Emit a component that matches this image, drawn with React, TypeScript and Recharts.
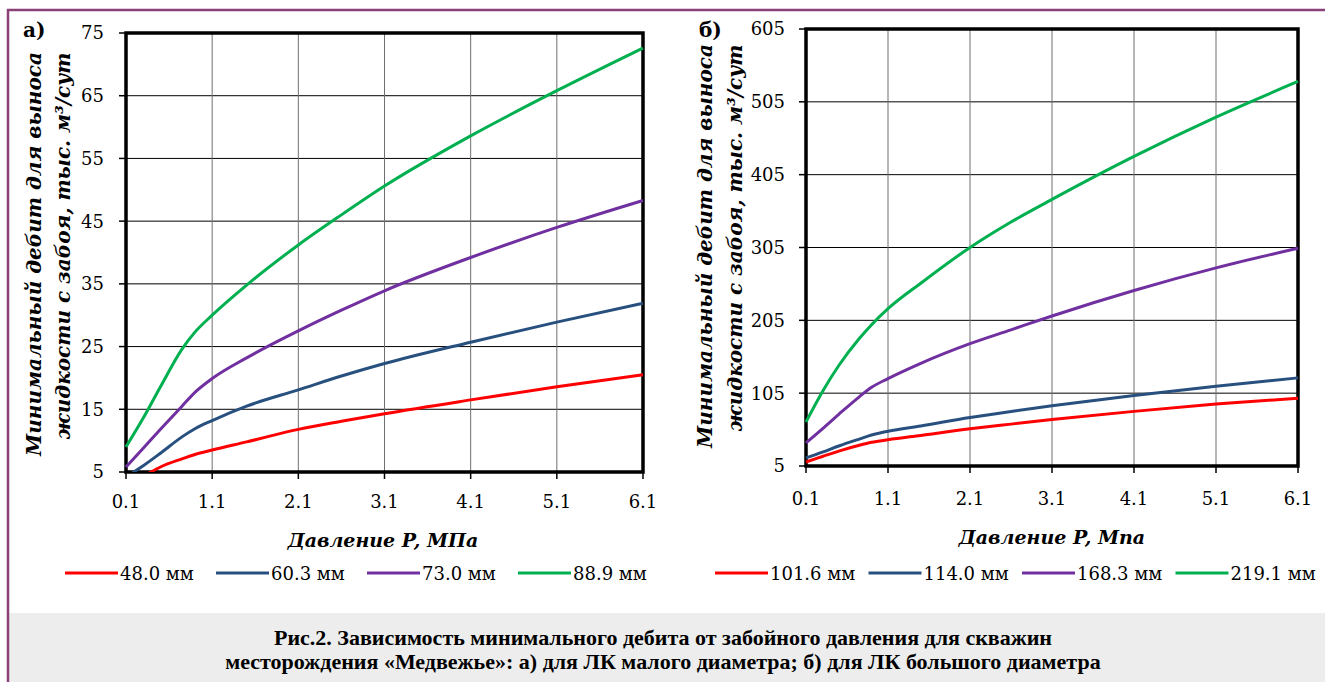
import { FC } from "react";
import { CartesianGrid, Line, LineChart, ReferenceArea, XAxis, YAxis } from "recharts";

// Давление P, МПа
const pressure = [0.1, 0.3, 0.5, 0.75, 0.9, 1.1, 1.5, 2.1, 2.6, 3.1, 4.1, 5.1, 6.1];
const pressureTicks = [0.1, 1.1, 2.1, 3.1, 4.1, 5.1, 6.1];

// а) ЛК малого диаметра
const smallNames = ["48.0 мм", "60.3 мм", "73.0 мм", "88.9 мм"];
const q480 = [3.0, 4.3, 5.8, 7.1, 7.8, 8.5, 9.8, 11.8, 13.1, 14.3, 16.5, 18.6, 20.5];
const q603 = [4.2, 6.0, 8.0, 10.6, 11.9, 13.2, 15.5, 18.1, 20.3, 22.3, 25.7, 28.9, 31.9];
const q730 = [5.8, 8.8, 11.8, 15.5, 17.7, 19.9, 23.2, 27.5, 30.8, 33.9, 39.2, 44.0, 48.3];
const q889 = [9.0, 13.6, 18.6, 24.6, 27.3, 30.0, 34.8, 41.2, 46.0, 50.6, 58.6, 65.8, 72.6];
const smallTicks = [5, 15, 25, 35, 45, 55, 65, 75];

// б) ЛК большого диаметра
const largeNames = ["101.6 мм", "114.0 мм", "168.3 мм", "219.1 мм"];
const q1016 = [10.5, 18, 25.5, 33.5, 37.5, 41, 47, 56, 62.5, 68.8, 80, 90, 98];
const q1140 = [16, 24, 32.5, 42, 47.5, 52.7, 60, 71.5, 79.8, 87.6, 101.8, 114.6, 126];
const q1683 = [36.7, 56, 76, 100, 113, 125, 146, 173, 192, 211, 246, 277, 304];
const q2191 = [65.5, 107, 143, 180, 199, 221, 256, 305, 340, 371, 430, 484, 533];
const largeTicks = [5, 105, 205, 305, 405, 505, 605];

const COLORS = ["#ff0000", "#28507f", "#7030a0", "#00b050"];
const FRAME = "#8b4077";
const SERIF = "DejaVu Serif";

const toRows = (series: number[][]) =>
  pressure.map((p, i) => {
    const row: Record<string, number> = { p };
    series.forEach((s, k) => (row[`s${k}`] = s[i]));
    return row;
  });

const smallRows = toRows([q480, q603, q730, q889]);
const largeRows = toRows([q1016, q1140, q1683, q2191]);

interface IPanel {
  left: number;
  width: number;
  height: number;
  top: number;
  right: number;
  yWidth: number;
  xHeight: number;
  xTickMargin: number;
  yTickMargin: number;
  rows: Record<string, number>[];
  ticks: number[];
}

const Panel: FC<IPanel> = (props) => {
  const { rows, ticks } = props;
  const lo = ticks[0];
  const hi = ticks[ticks.length - 1];
  const tickStyle = { fontFamily: SERIF, fontSize: 18, fill: "#000" };
  return (
    <div style={{ position: "absolute", left: props.left, top: 0 }}>
      <LineChart
        width={props.width}
        height={props.height}
        data={rows}
        margin={{ top: props.top, right: props.right, bottom: 0, left: 0 }}
      >
        <CartesianGrid vertical={false} stroke="#000" strokeWidth={1} />
        <CartesianGrid horizontal={false} stroke="#6f6f6f" strokeWidth={1} />
        <XAxis
          dataKey="p"
          type="number"
          domain={[0.1, 6.1]}
          ticks={pressureTicks}
          tickFormatter={(v: number) => v.toFixed(1)}
          height={props.xHeight}
          tickSize={7}
          tickMargin={props.xTickMargin}
          tickLine={{ stroke: "#000", strokeWidth: 1.5 }}
          axisLine={false}
          tick={tickStyle}
          interval={0}
        />
        <YAxis
          type="number"
          domain={[lo, hi]}
          ticks={ticks}
          allowDataOverflow
          width={props.yWidth}
          tickSize={7}
          tickMargin={props.yTickMargin}
          tickLine={{ stroke: "#000", strokeWidth: 1.5 }}
          axisLine={false}
          tick={tickStyle}
          interval={0}
        />
        <ReferenceArea
          x1={0.1}
          x2={6.1}
          y1={lo}
          y2={hi}
          fill="none"
          fillOpacity={0}
          stroke="#000"
          strokeWidth={3.5}
        />
        {COLORS.map((c, k) => (
          <Line
            key={k}
            dataKey={`s${k}`}
            type="monotone"
            stroke={c}
            strokeWidth={3}
            dot={false}
            isAnimationActive={false}
          />
        ))}
      </LineChart>
    </div>
  );
};

const LegendRow: FC<{ names: string[]; x0: number; step: number; y: number }> = ({ names, x0, step, y }) => (
  <>
    {names.map((n, k) => (
      <g key={n}>
        <line x1={x0 + k * step} x2={x0 + k * step + 53} y1={y} y2={y} stroke={COLORS[k]} strokeWidth={3} />
        <text x={x0 + k * step + 55} y={y} dominantBaseline="central" fontFamily={SERIF} fontSize={18}>
          {n}
        </text>
      </g>
    ))}
  </>
);

const YTitle: FC<{ x1: number; x2: number; y: number }> = ({ x1, x2, y }) => {
  const style = { fontFamily: SERIF, fontSize: 20, fontWeight: 700, fontStyle: "italic" as const };
  return (
    <>
      <text transform={`translate(${x1},${y}) rotate(-90)`} textAnchor="middle" dominantBaseline="central" {...style}>
        Минимальный дебит для выноса
      </text>
      <text transform={`translate(${x2},${y - 8}) rotate(-90)`} textAnchor="middle" dominantBaseline="central" {...style}>
        жидкости с забоя, тыс. м³/сут
      </text>
    </>
  );
};

export default function App() {
  return (
    <div style={{ position: "absolute", left: 0, top: 0, width: 1325, height: 682, background: "#fff", overflow: "hidden" }}>
      <svg width={1325} height={682} style={{ position: "absolute", left: 0, top: 0 }}>
        <rect x={9} y={613} width={1316} height={69} fill="#ecedec" />
        <line x1={7} x2={1325} y1={10} y2={10} stroke={FRAME} strokeWidth={2.5} />
        <line x1={8} x2={8} y1={9} y2={682} stroke={FRAME} strokeWidth={2.5} />

        <text x={23} y={37} fontFamily={SERIF} fontSize={20} fontWeight={700}>а)</text>
        <text x={699} y={37} fontFamily={SERIF} fontSize={20} fontWeight={700}>б)</text>

        <YTitle x1={34} x2={63} y={254} />
        <YTitle x1={705} x2={735} y={246} />

        <text x={383} y={540} textAnchor="middle" dominantBaseline="central" fontFamily={SERIF} fontSize={19} fontWeight={700} fontStyle="italic">
          Давление P, МПа
        </text>
        <text x={1052} y={537} textAnchor="middle" dominantBaseline="central" fontFamily={SERIF} fontSize={19} fontWeight={700} fontStyle="italic">
          Давление P, Мпа
        </text>

        <LegendRow names={smallNames} x0={65} step={151} y={573} />
        <LegendRow names={largeNames} x0={715} step={153.5} y={573} />

        <text x={663} y={645} textAnchor="middle" fontFamily="Liberation Serif" fontSize={22} fontWeight={700}>
          Рис.2. Зависимость минимального дебита от забойного давления для скважин
        </text>
        <text x={663} y={669} textAnchor="middle" fontFamily="Liberation Serif" fontSize={22} fontWeight={700}>
          месторождения «Медвежье»: а) для ЛК малого диаметра; б) для ЛК большого диаметра
        </text>
      </svg>

      <Panel left={0} width={660} height={520} top={33} right={17} yWidth={126} xHeight={48} xTickMargin={16} yTickMargin={15} rows={smallRows} ticks={smallTicks} />
      <Panel left={660} width={665} height={520} top={29} right={27} yWidth={146} xHeight={54} xTickMargin={19} yTickMargin={14} rows={largeRows} ticks={largeTicks} />
    </div>
  );
}
